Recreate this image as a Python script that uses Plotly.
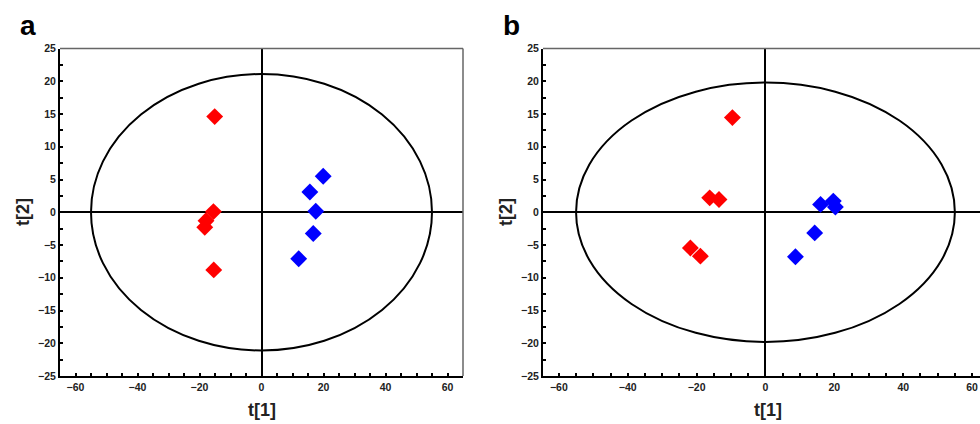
import numpy as np
import plotly.graph_objects as go

# ---- data ----
a_red_x = [-15.1, -15.5, -17.9, -18.3, -15.4]
a_red_y = [14.6, 0.1, -1.3, -2.3, -8.8]
a_blue_x = [19.9, 15.6, 17.5, 16.7, 12.0]
a_blue_y = [5.5, 3.1, 0.15, -3.25, -7.1]

b_red_x = [-9.6, -16.2, -13.5, -21.8, -18.9]
b_red_y = [14.45, 2.2, 1.95, -5.45, -6.7]
b_blue_x = [16.0, 19.7, 20.3, 14.3, 8.7]
b_blue_y = [1.2, 1.7, 0.8, -3.15, -6.8]

ellipse_rx = [55.0, 55.0]
ellipse_ry = [21.1, 19.8]

x_ticks = [-60, -40, -20, 0, 20, 40, 60]
y_ticks = [-25, -20, -15, -10, -5, 0, 5, 10, 15, 20, 25]
panel_labels = ["a", "b"]

W, H = 980, 424
RED, BLUE = "#ff0000", "#0000ff"
FONT = "Arial, Liberation Sans, sans-serif"

fig = go.Figure()

panels = [
    (a_red_x, a_red_y, a_blue_x, a_blue_y, "x", "y"),
    (b_red_x, b_red_y, b_blue_x, b_blue_y, "x2", "y2"),
]
for rx, ry, bx, by, xa, ya in panels:
    fig.add_trace(go.Scatter(x=rx, y=ry, mode="markers", xaxis=xa, yaxis=ya,
                             marker=dict(symbol="diamond", size=13, color=RED),
                             showlegend=False, hoverinfo="skip"))
    fig.add_trace(go.Scatter(x=bx, y=by, mode="markers", xaxis=xa, yaxis=ya,
                             marker=dict(symbol="diamond", size=13, color=BLUE),
                             showlegend=False, hoverinfo="skip"))

ydom = [1 - 376 / H, 1 - 48.5 / H]
axis_common = dict(
    showgrid=False, zeroline=True, zerolinecolor="black", zerolinewidth=2,
    showline=True, linecolor="black", linewidth=2,
    ticks="inside", ticklen=3, tickwidth=1.5, tickcolor="black",
    tickfont=dict(family=FONT, size=10.5, color="#222", weight="bold"),
    automargin=False,
)
fig.update_layout(
    width=W, height=H, autosize=False,
    margin=dict(l=0, r=0, t=0, b=0, pad=0),
    paper_bgcolor="white", plot_bgcolor="white",
    xaxis=dict(domain=[60 / W, 463 / W], range=[-65, 65], tickvals=x_ticks,
               minor=dict(dtick=5, ticks="inside", ticklen=3, tickcolor="black", tickwidth=1.5),
               anchor="y", **axis_common),
    yaxis=dict(domain=ydom, range=[-25, 25], tickvals=y_ticks,
               minor=dict(dtick=2.5, ticks="inside", ticklen=3, tickcolor="black", tickwidth=1.5),
               anchor="x", **axis_common),
    xaxis2=dict(domain=[543 / W, 1.0], range=[-64.6, (980 - 765.7) / 3.44], tickvals=x_ticks,
                minor=dict(dtick=5, ticks="inside", ticklen=3, tickcolor="black", tickwidth=1.5),
                anchor="y2", **axis_common),
    yaxis2=dict(domain=ydom, range=[-25, 25], tickvals=y_ticks,
                minor=dict(dtick=2.5, ticks="inside", ticklen=3, tickcolor="black", tickwidth=1.5),
                anchor="x2", **axis_common),
)

shapes = []
# ellipses
for i, (xr, yr) in enumerate([("x", "y"), ("x2", "y2")]):
    shapes.append(dict(type="circle", xref=xr, yref=yr,
                       x0=-ellipse_rx[i], x1=ellipse_rx[i], y0=-ellipse_ry[i], y1=ellipse_ry[i],
                       line=dict(color="black", width=2), layer="above"))
# frame top/right (gray)
shapes.append(dict(type="line", xref="x domain", yref="y domain", x0=0, x1=1, y0=1, y1=1,
                   line=dict(color="#666", width=1.5)))
shapes.append(dict(type="line", xref="x domain", yref="y domain", x0=1, x1=1, y0=0, y1=1,
                   line=dict(color="#666", width=1.5)))
shapes.append(dict(type="line", xref="x2 domain", yref="y2 domain", x0=0, x1=1, y0=1, y1=1,
                   line=dict(color="#666", width=1.5)))
fig.update_layout(shapes=shapes)

ann = []
for lbl, px in zip(panel_labels, [28, 511]):
    ann.append(dict(text=lbl, x=px / W, y=1 - 25 / H, xref="paper", yref="paper",
                    showarrow=False, xanchor="center", yanchor="middle",
                    font=dict(family=FONT, size=28, color="black", weight="bold")))
for cx in [262, 768]:
    ann.append(dict(text="t[1]", x=cx / W, y=1 - 410 / H, xref="paper", yref="paper",
                    showarrow=False, xanchor="center", yanchor="middle",
                    font=dict(family=FONT, size=18, color="#222", weight="bold")))
for cx in [23, 506]:
    ann.append(dict(text="t[2]", x=cx / W, y=1 - 212 / H, xref="paper", yref="paper",
                    showarrow=False, xanchor="center", yanchor="middle", textangle=-90,
                    font=dict(family=FONT, size=18, color="#222", weight="bold")))
fig.update_layout(annotations=ann)

fig.write_html(
    "out.html",
    config={"displayModeBar": False},
    post_script="document.body.style.margin='0';document.body.style.overflow='hidden';"
                "document.documentElement.style.overflow='hidden';",
)
